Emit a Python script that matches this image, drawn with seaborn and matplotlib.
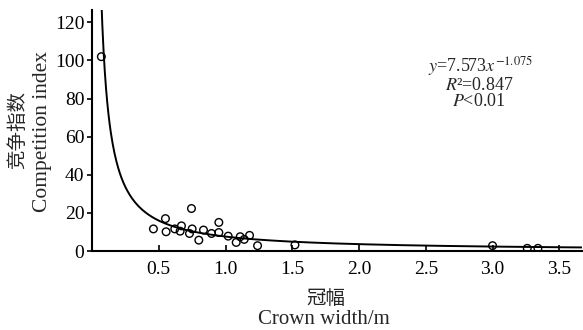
import numpy as np
import pandas as pd
import matplotlib
matplotlib.use("Agg")
import matplotlib.pyplot as plt
import seaborn as sns

# Data
crown_width = [0.07, 0.46, 0.55, 0.555, 0.62, 0.66, 0.67, 0.73, 0.745, 0.75,
               0.80, 0.835, 0.895, 0.95, 0.95, 1.02, 1.08, 1.11, 1.14, 1.18,
               1.24, 1.52, 3.00, 3.26, 3.34]
competition_index = [102.0, 11.6, 17.0, 10.1, 11.6, 10.4, 13.2, 9.2, 22.3, 11.6,
                     5.7, 11.0, 9.2, 15.0, 9.7, 7.8, 4.5, 7.5, 6.1, 8.2,
                     2.8, 3.2, 2.8, 1.4, 1.4]
coef_a = 7.573
coef_b = -1.075
xticks = [0.5, 1.0, 1.5, 2.0, 2.5, 3.0, 3.5]
yticks = [0, 20, 40, 60, 80, 100, 120]

sns.set_theme(style="ticks")
plt.rcParams['font.family'] = ['Liberation Serif', 'Noto Sans CJK SC']
plt.rcParams['mathtext.fontset'] = 'stix'

W, H = 583, 330
fig = plt.figure(figsize=(W / 100, H / 100), dpi=100)
ax = fig.add_axes([92 / W, 1 - 251 / H, (582 - 92) / W, (251 - 10) / H])

df = pd.DataFrame({"x": crown_width, "y": competition_index})
sns.scatterplot(data=df, x="x", y="y", ax=ax, marker="o", s=30,
                facecolor="none", edgecolor="black", linewidth=1.0, zorder=3)

xc = np.linspace(0.05, 3.7, 800)
fit = pd.DataFrame({"x": xc, "y": coef_a * xc ** coef_b})
sns.lineplot(data=fit, x="x", y="y", ax=ax, color="black", linewidth=1.4, zorder=2)

ax.set_xlim(0, 3.67)
ax.set_ylim(0, 126.5)
ax.set_xticks(xticks)
ax.set_xticklabels([f"{v:.1f}" for v in xticks])
ax.set_yticks(yticks)
ax.set_yticklabels([str(v) for v in yticks])
ax.tick_params(axis="x", direction="in", length=4, width=1.2, labelsize=14, pad=7, colors="black")
ax.tick_params(axis="y", direction="out", length=3.5, width=1.2, labelsize=14, pad=2, colors="black")
for sp in ["top", "right"]:
    ax.spines[sp].set_visible(False)
for sp in ["left", "bottom"]:
    ax.spines[sp].set_linewidth(1.5)
    ax.spines[sp].set_color("black")
ax.set_xlabel("")
ax.set_ylabel("")

# axis titles
fig.text(326 / W, 1 - 299 / H, "冠幅", ha="center", va="center", fontsize=14,
         family=['Noto Sans CJK SC'])
fig.text(324 / W, 1 - 320 / H, "Crown width/m", ha="center", va="center", fontsize=15)
fig.text(17.5 / W, 1 - 130 / H, "竞争指数", ha="center", va="center", fontsize=14,
         rotation=90, family=['Noto Sans CJK SC'])
fig.text(42 / W, 1 - 132 / H, "Competition index", ha="center", va="center", fontsize=15.5,
         rotation=90)

# equation annotation
fs = 13
fig.text(481 / W, 1 - 72 / H, r"$\mathit{y}$=7.573$\mathit{x}^{-1.075}$",
         ha="center", va="baseline", fontsize=fs)
fig.text(479 / W, 1 - 89.5 / H, r"$\mathit{R}$²=0.847",
         ha="center", va="baseline", fontsize=fs)
fig.text(479 / W, 1 - 106 / H, r"$\mathit{P}$<0.01",
         ha="center", va="baseline", fontsize=fs)

fig.savefig("out.png", dpi=100)
